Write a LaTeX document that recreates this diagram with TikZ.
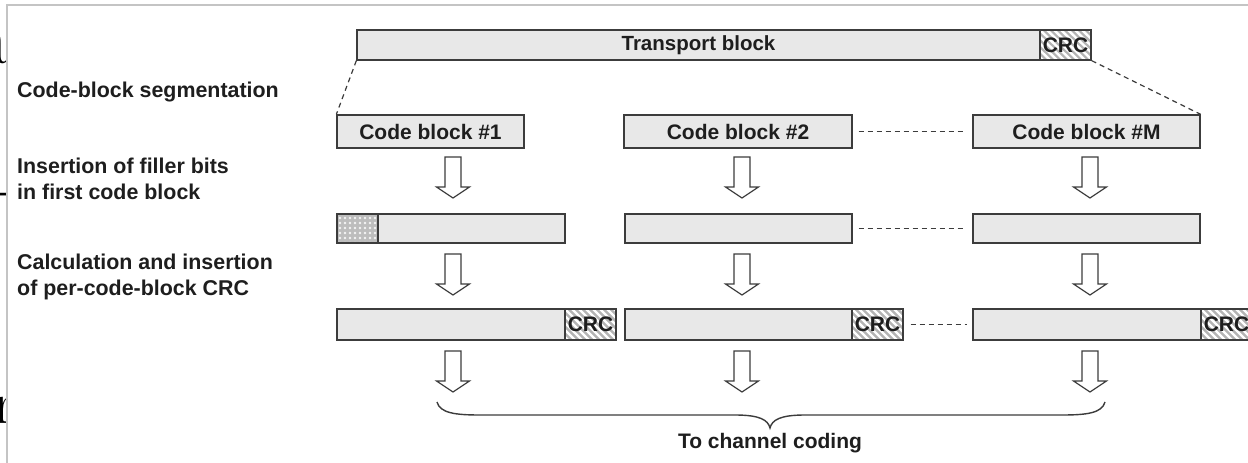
\documentclass[tikz,border=0pt]{standalone}
\usepackage{fontspec}
\newfontfamily\sansbold{Liberation Sans}
\usetikzlibrary{patterns.meta}

\definecolor{boxfill}{HTML}{E8E8E8}
\definecolor{edge}{HTML}{3C3C3C}
\definecolor{ink}{HTML}{1E1E1E}
\definecolor{frameline}{HTML}{C4C4C4}
\definecolor{crcgray}{HTML}{B4B4B4}
\definecolor{fillergray}{HTML}{BDBDBD}

\tikzset{
  lbl/.style={font=\sansbold\bfseries\fontsize{21}{26}\selectfont, text=ink, inner sep=0pt},
  sidelbl/.style={lbl, font=\sansbold\bfseries\fontsize{21.4}{26}\selectfont},
  blk/.style={draw=edge, fill=boxfill, line width=1.3pt, inner sep=0pt, lbl},
  crcbox/.style={draw=edge, line width=1.3pt, inner sep=0pt, lbl, fill=crcgray,
    path picture={
      \foreach \k in {-8,...,10}
        \draw[white, line width=2.4pt]
          ([xshift=\k*7pt]path picture bounding box.north west) --
          ([xshift=\k*7pt+31pt]path picture bounding box.south west);
    }},
  fillerbox/.style={draw=edge, line width=1.3pt, inner sep=0pt,
    preaction={fill=fillergray},
    pattern={Dots[distance=5pt, radius=1.3pt]}, pattern color=white!85!fillergray},
  dashline/.style={draw=edge, line width=1.2pt, dash pattern=on 5pt off 4pt},
  bracepath/.style={draw=edge, line width=1.4pt},
  downarrow/.pic={
    \draw[edge, line width=1.2pt, fill=white, line join=miter]
      (-8,0) -- (8,0) -- (8,30) -- (16.5,30) -- (0,41) -- (-16.5,30) -- (-8,30) -- cycle;
  }
}

\begin{document}
\begin{tikzpicture}[x=1pt, y=-1pt]
\clip (0,0) rectangle (1248,463);
\fill[white] (0,0) rectangle (1248,463);

% cut-off glyphs of the neighbouring page on the far left
\begin{scope}
  \clip (0,0) rectangle (7,463);
  \node[anchor=base east, inner sep=0pt, font=\rmfamily\fontsize{76}{76}\selectfont, text=black] (edgeA) at (10,63) {a};
  \node[anchor=base east, inner sep=0pt, font=\rmfamily\fontsize{60}{60}\selectfont, text=black] (edgeH) at (10,207) {-};
  \node[anchor=base west, inner sep=0pt, font=\rmfamily\fontsize{60}{60}\selectfont, text=black] (edgeR) at (-6,423) {r};
\end{scope}

% frame of the figure panel
\draw[frameline, line width=1.3pt] (7,463) -- (7,5) -- (1248,5);

% step labels
\node[sidelbl, anchor=base west] (labSeg)  at (17,97)  {Code-block segmentation};
\node[sidelbl, anchor=base west] (labFilA) at (17,173) {Insertion of filler bits};
\node[sidelbl, anchor=base west] (labFilB) at (17,199) {in first code block};
\node[sidelbl, anchor=base west] (labCrcA) at (17,269) {Calculation and insertion};
\node[sidelbl, anchor=base west] (labCrcB) at (17,295) {of per-code-block CRC};

% transport block with its CRC
\node[blk, minimum width=683pt, minimum height=30pt, font=\sansbold\bfseries\fontsize{20.5}{24}\selectfont] (tb) at (698.5,45) {Transport block};
\node[crcbox, minimum width=51pt, minimum height=30pt] (tbcrc) at (1065.5,45) {CRC};

% code blocks after segmentation
\node[blk, minimum width=187pt, minimum height=33pt] (cb1) at (430.5,131.5) {Code block \#1};
\node[blk, minimum width=228pt, minimum height=33pt] (cb2) at (738,131.5) {Code block \#2};
\node[blk, minimum width=227pt, minimum height=33pt] (cbM) at (1086.5,131.5) {Code block \#M};

\draw[dashline] (tb.south west) -- (cb1.north west);
\draw[dashline] (tbcrc.south east) -- (cbM.north east);
\draw[dashline] ([xshift=6pt]cb2.east) -- ([xshift=-6pt]cbM.west);

% blocks with filler bits
\node[fillerbox, minimum width=41pt, minimum height=29pt] (fb1) at (357.5,228.5) {};
\node[blk, minimum width=187pt, minimum height=29pt] (f1) at (471.5,228.5) {};
\node[blk, minimum width=227pt, minimum height=29pt] (f2) at (738.5,228.5) {};
\node[blk, minimum width=227pt, minimum height=29pt] (fM) at (1086.5,228.5) {};
\draw[dashline] ([xshift=6pt]f2.east) -- ([xshift=-6pt]fM.west);

% blocks with attached CRC
\node[blk, minimum width=228pt, minimum height=31pt] (c1) at (451,324.5) {};
\node[crcbox, minimum width=51pt, minimum height=31pt] (c1crc) at (590.5,324.5) {CRC};
\node[blk, minimum width=227pt, minimum height=31pt] (c2) at (738.5,324.5) {};
\node[crcbox, minimum width=51pt, minimum height=31pt] (c2crc) at (877.5,324.5) {CRC};
\node[blk, minimum width=228pt, minimum height=31pt] (cM) at (1087,324.5) {};
\node[crcbox, minimum width=51pt, minimum height=31pt] (cMcrc) at (1226.5,324.5) {CRC};
\draw[dashline] ([xshift=7pt]c2crc.east) -- ([xshift=-5pt]cM.west);

% processing arrows
\foreach \ax in {453,742,1090} {
  \pic at (\ax,157) {downarrow};
  \pic at (\ax,254) {downarrow};
  \pic at (\ax,351) {downarrow};
}

% brace gathering the code blocks
\coordinate (brL)  at (437,402);
\coordinate (brL2) at (480,415);
\coordinate (brM1) at (735,415);
\coordinate (brTip) at (770,428);
\coordinate (brM2) at (805,415);
\coordinate (brR2) at (1062,415);
\coordinate (brR)  at (1105,402);
\draw[bracepath] (brL) .. controls +(3,11) and +(-25,0) .. (brL2) -- (brM1)
  .. controls +(25,0) and +(-2,-8) .. (brTip)
  .. controls +(2,-8) and +(-25,0) .. (brM2) -- (brR2)
  .. controls +(25,0) and +(-3,11) .. (brR);

\node[lbl, anchor=base] (out) at (770,448) {To channel coding};
\end{tikzpicture}
\end{document}
